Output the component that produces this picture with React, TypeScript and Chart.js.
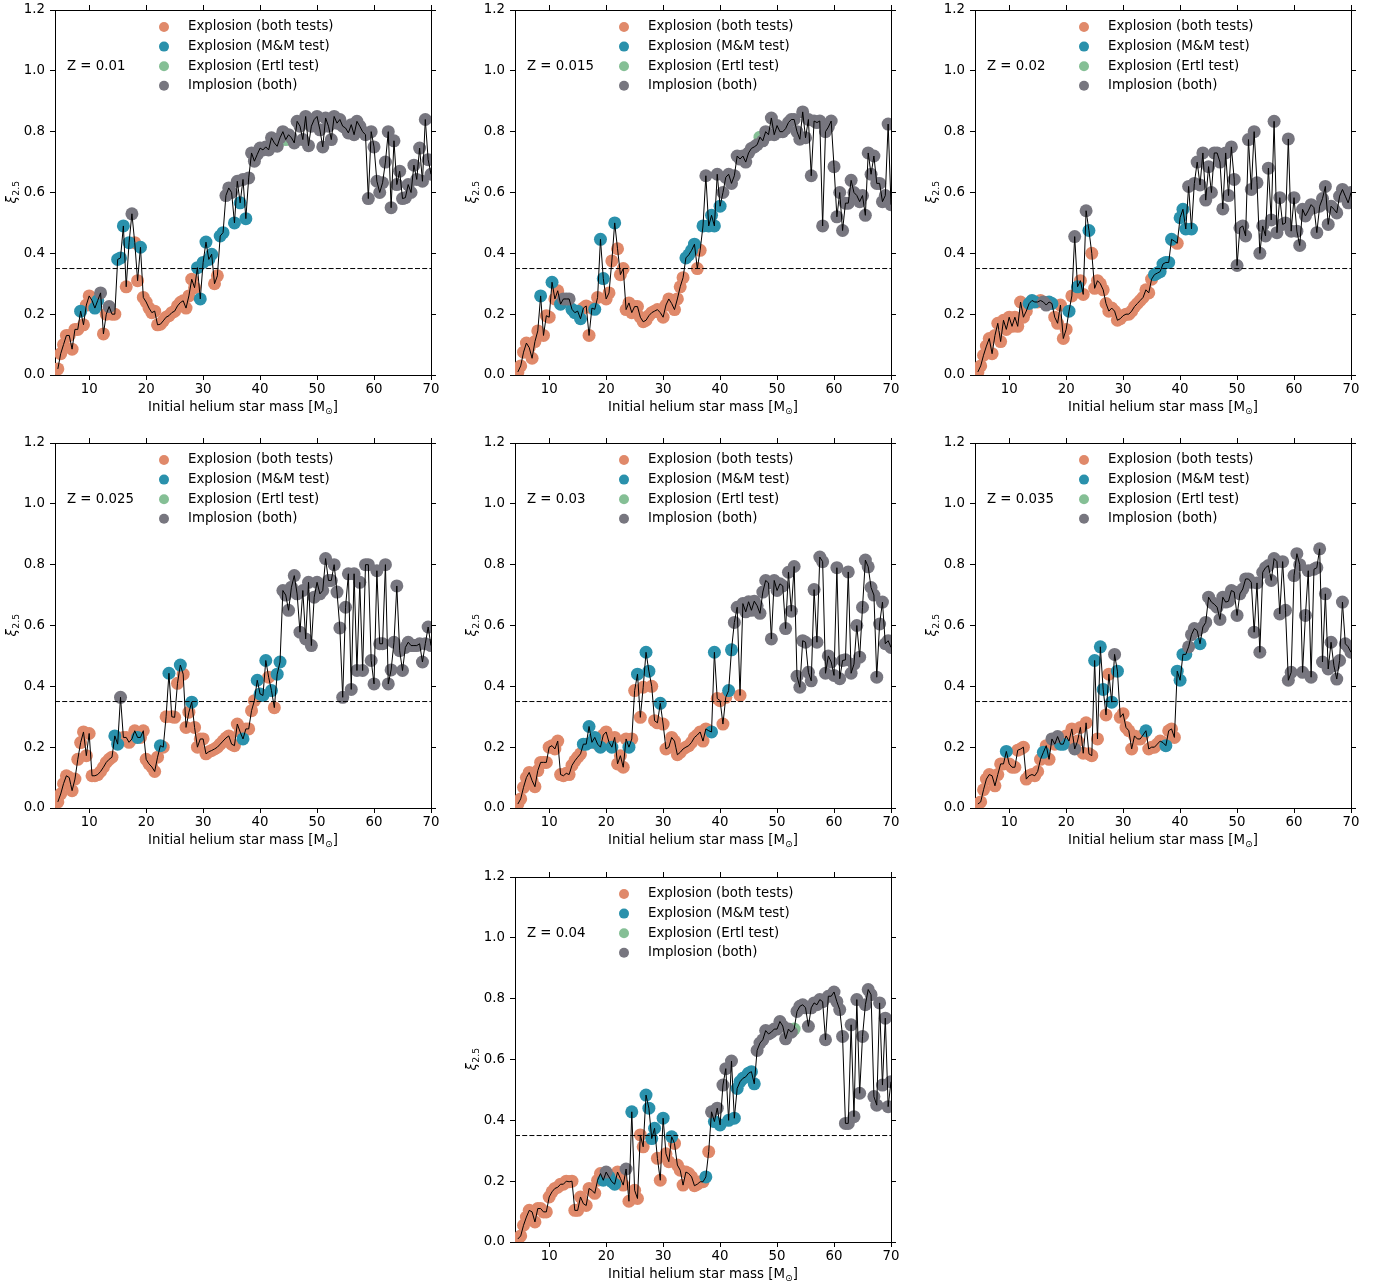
import React, { useEffect, useRef } from "react";
import { Chart, registerables } from "chart.js";

Chart.register(...registerables);

// ---------------- data ----------------
const masses = [
  4.5, 5, 5.5, 6, 6.5, 7, 7.5, 8, 8.5, 9,
  9.5, 10, 10.5, 11, 11.5, 12, 12.5, 13, 13.5, 14,
  14.5, 15, 15.5, 16, 16.5, 17, 17.5, 18, 18.5, 19,
  19.5, 20, 20.5, 21, 21.5, 22, 22.5, 23, 23.5, 24,
  24.5, 25, 25.5, 26, 26.5, 27, 27.5, 28, 28.5, 29,
  29.5, 30, 30.5, 31, 31.5, 32, 32.5, 33, 33.5, 34,
  34.5, 35, 35.5, 36, 36.5, 37, 37.5, 38, 38.5, 39,
  39.5, 40, 40.5, 41, 41.5, 42, 42.5, 43, 43.5, 44,
  44.5, 45, 45.5, 46, 46.5, 47, 47.5, 48, 48.5, 49,
  49.5, 50, 50.5, 51, 51.5, 52, 52.5, 53, 53.5, 54,
  54.5, 55, 55.5, 56, 56.5, 57, 57.5, 58, 58.5, 59,
  59.5, 60, 60.5, 61, 61.5, 62, 62.5, 63, 63.5, 64,
  64.5, 65, 65.5, 66, 66.5, 67, 67.5, 68, 68.5, 69,
  69.5, 70,
];

const xTicks = [10, 20, 30, 40, 50, 60, 70];
const yTicks = [0, 0.2, 0.4, 0.6, 0.8, 1.0, 1.2];
const xRange = [4, 70];
const yRange = [0, 1.2];
const threshold = 0.35;

const categoryCodes = ["O", "B", "E", "I"];
const categoryLabels = [
  "Explosion (both tests)",
  "Explosion (M&M test)",
  "Explosion (Ertl test)",
  "Implosion (both)",
];
const categoryColors = ["#E0896A", "#2A91AC", "#85BF95", "#77767F"];

const zLabels = ["Z = 0.01", "Z = 0.015", "Z = 0.02", "Z = 0.025", "Z = 0.03", "Z = 0.035", "Z = 0.04"];

const xiZ0010 = [
  0.02, 0.07, 0.10, 0.13, 0.13, 0.085, 0.15, 0.15, 0.21, 0.165,
  0.23, 0.26, 0.245, 0.22, 0.245, 0.27, 0.135, 0.20, 0.225, 0.20,
  0.20, 0.38, 0.385, 0.49, 0.29, 0.435, 0.53, 0.435, 0.31, 0.42,
  0.255, 0.24, 0.22, 0.205, 0.21, 0.165, 0.167, 0.178, 0.19, 0.195,
  0.205, 0.21, 0.227, 0.238, 0.244, 0.22, 0.26, 0.315, 0.287, 0.353,
  0.25, 0.37, 0.437, 0.38, 0.397, 0.30, 0.326, 0.457, 0.468, 0.59,
  0.615, 0.60, 0.50, 0.637, 0.566, 0.643, 0.514, 0.648, 0.73, 0.703,
  0.725, 0.746, 0.74, 0.75, 0.74, 0.78, 0.763, 0.752, 0.78, 0.80,
  0.774, 0.79, 0.78, 0.763, 0.834, 0.818, 0.774, 0.85, 0.754, 0.818,
  0.84, 0.85, 0.806, 0.75, 0.845, 0.818, 0.774, 0.85, 0.828, 0.84,
  0.818, 0.812, 0.796, 0.823, 0.79, 0.834, 0.818, 0.80, 0.79, 0.58,
  0.80, 0.75, 0.637, 0.60, 0.632, 0.70, 0.80, 0.55, 0.77, 0.626,
  0.67, 0.58, 0.583, 0.626, 0.60, 0.69, 0.643, 0.746, 0.637, 0.84,
  0.708, 0.66,
];
const catZ0010 = "O8 B1 O4 B2 I1 O2 I1 O2 B3 O1 B1 I1 O2 B1 O19 B6 O2 B2 I3 B1 I1 B1 I1 B1 I13 E1 I51";

const xiZ0015 = [
  0.01, 0.03, 0.075, 0.105, 0.09, 0.055, 0.11, 0.145, 0.26, 0.13,
  0.195, 0.19, 0.305, 0.25, 0.277, 0.233, 0.25, 0.25, 0.25, 0.216,
  0.205, 0.21, 0.185, 0.22, 0.227, 0.13, 0.22, 0.216, 0.255, 0.446,
  0.317, 0.25, 0.27, 0.375, 0.50, 0.415, 0.33, 0.35, 0.215, 0.237,
  0.205, 0.225, 0.225, 0.19, 0.175, 0.18, 0.195, 0.205, 0.21, 0.215,
  0.205, 0.19, 0.23, 0.25, 0.235, 0.215, 0.25, 0.29, 0.32, 0.385,
  0.395, 0.41, 0.43, 0.35, 0.41, 0.49, 0.655, 0.49, 0.525, 0.49,
  0.66, 0.555, 0.60, 0.65, 0.66, 0.63, 0.655, 0.72, 0.71, 0.72,
  0.70, 0.73, 0.745, 0.75, 0.757, 0.782, 0.77, 0.80, 0.79, 0.845,
  0.79, 0.82, 0.80, 0.80, 0.81, 0.83, 0.84, 0.84, 0.80, 0.775,
  0.865, 0.78, 0.84, 0.655, 0.835, 0.83, 0.835, 0.49, 0.80, 0.815,
  0.835, 0.685, 0.52, 0.60, 0.475, 0.565, 0.565, 0.64, 0.60, 0.59,
  0.57, 0.59, 0.525, 0.73, 0.66, 0.72, 0.63, 0.63, 0.57, 0.59,
  0.825, 0.56,
];
const catZ0015 = "O8 B1 O3 B1 O2 B1 I3 B4 O4 B1 O1 B2 O3 B1 O24 B4 O2 B1 I1 B3 I1 B1 I13 E1 I46";

const xiZ0020 = [
  0.01, 0.03, 0.065, 0.095, 0.12, 0.07, 0.13, 0.17, 0.11, 0.18,
  0.15, 0.19, 0.16, 0.19, 0.16, 0.24, 0.19, 0.21, 0.235, 0.245,
  0.24, 0.24, 0.245, 0.24, 0.23, 0.24, 0.235, 0.19, 0.17, 0.23,
  0.12, 0.15, 0.21, 0.26, 0.455, 0.29, 0.31, 0.265, 0.54, 0.475,
  0.40, 0.285, 0.31, 0.30, 0.28, 0.235, 0.21, 0.22, 0.21, 0.18,
  0.185, 0.195, 0.20, 0.20, 0.21, 0.225, 0.235, 0.245, 0.255, 0.28,
  0.27, 0.315, 0.33, 0.335, 0.34, 0.365, 0.37, 0.37, 0.446, 0.44,
  0.433, 0.517, 0.545, 0.48, 0.62, 0.48, 0.63, 0.70, 0.625, 0.73,
  0.575, 0.685, 0.60, 0.73, 0.73, 0.70, 0.546, 0.73, 0.59, 0.75,
  0.643, 0.36, 0.484, 0.49, 0.457, 0.774, 0.61, 0.80, 0.632, 0.40,
  0.49, 0.457, 0.68, 0.51, 0.834, 0.468, 0.583, 0.495, 0.50, 0.776,
  0.473, 0.583, 0.473, 0.426, 0.545, 0.523, 0.54, 0.56, 0.55, 0.468,
  0.555, 0.58, 0.62, 0.495, 0.555, 0.545, 0.533, 0.588, 0.61, 0.588,
  0.566, 0.60,
];
const catZ0020 = "O18 B3 O2 I2 B2 O5 B1 O1 I1 B1 O2 I1 B1 O22 B7 O2 B3 I1 B1 I56";

const xiZ0025 = [
  0.02, 0.046, 0.08, 0.106, 0.10, 0.057, 0.095, 0.16, 0.215, 0.25,
  0.172, 0.245, 0.106, 0.106, 0.11, 0.12, 0.134, 0.15, 0.16, 0.167,
  0.237, 0.21, 0.364, 0.232, 0.232, 0.216, 0.227, 0.254, 0.232, 0.232,
  0.254, 0.16, 0.145, 0.135, 0.12, 0.167, 0.205, 0.20, 0.30, 0.443,
  0.30, 0.298, 0.41, 0.47, 0.44, 0.265, 0.315, 0.348, 0.265, 0.20,
  0.227, 0.227, 0.178, 0.185, 0.189, 0.194, 0.20, 0.21, 0.22, 0.23,
  0.237, 0.21, 0.205, 0.276, 0.25, 0.227, 0.26, 0.26, 0.32, 0.353,
  0.42, 0.375, 0.37, 0.485, 0.43, 0.386, 0.33, 0.44, 0.48, 0.715,
  0.70, 0.65, 0.726, 0.764, 0.704, 0.578, 0.715, 0.556, 0.742, 0.534,
  0.693, 0.742, 0.704, 0.715, 0.82, 0.748, 0.748, 0.80, 0.71, 0.592,
  0.364, 0.66, 0.77, 0.39, 0.77, 0.452, 0.742, 0.452, 0.80, 0.80,
  0.485, 0.408, 0.78, 0.54, 0.54, 0.80, 0.408, 0.454, 0.545, 0.73,
  0.517, 0.452, 0.528, 0.545, 0.534, 0.534, 0.534, 0.54, 0.48, 0.54,
  0.595, 0.534,
];
const catZ0025 = "O20 B2 I1 O5 B1 O7 B1 O2 B1 O3 B1 O3 B1 O17 B1 O4 B4 O1 B1 O1 B2 I53";

const xiZ0030 = [
  0.013, 0.03, 0.068, 0.10, 0.117, 0.09, 0.07, 0.123, 0.15, 0.15,
  0.15, 0.20, 0.205, 0.194, 0.22, 0.11, 0.106, 0.114, 0.11, 0.14,
  0.155, 0.167, 0.178, 0.21, 0.21, 0.268, 0.216, 0.232, 0.21, 0.20,
  0.24, 0.25, 0.216, 0.20, 0.232, 0.145, 0.172, 0.134, 0.227, 0.20,
  0.227, 0.386, 0.44, 0.298, 0.397, 0.512, 0.45, 0.40, 0.287, 0.28,
  0.344, 0.276, 0.194, 0.20, 0.232, 0.22, 0.175, 0.183, 0.194, 0.20,
  0.205, 0.216, 0.232, 0.24, 0.25, 0.22, 0.26, 0.254, 0.25, 0.512,
  0.36, 0.353, 0.276, 0.364, 0.386, 0.52, 0.61, 0.66, 0.37, 0.672,
  0.645, 0.678, 0.65, 0.68, 0.665, 0.64, 0.71, 0.748, 0.74, 0.556,
  0.748, 0.715, 0.737, 0.73, 0.59, 0.775, 0.647, 0.794, 0.433, 0.397,
  0.55, 0.545, 0.446, 0.418, 0.718, 0.545, 0.825, 0.81, 0.443, 0.50,
  0.48, 0.436, 0.79, 0.425, 0.485, 0.487, 0.776, 0.443, 0.473, 0.60,
  0.496, 0.66, 0.815, 0.793, 0.725, 0.70, 0.43, 0.605, 0.677, 0.54,
  0.55, 0.528,
];
const catZ0030 = "O23 B5 O1 B1 O3 B1 O5 B1 O2 B1 O2 B2 O3 B1 O17 B2 O4 B2 I2 O1 I53";

const xiZ0035 = [
  0.013, 0.02, 0.06, 0.095, 0.11, 0.106, 0.073, 0.11, 0.145, 0.145,
  0.186, 0.145, 0.134, 0.134, 0.19, 0.194, 0.20, 0.095, 0.106, 0.11,
  0.106, 0.12, 0.16, 0.183, 0.205, 0.16, 0.227, 0.21, 0.235, 0.21,
  0.21, 0.237, 0.22, 0.26, 0.194, 0.22, 0.265, 0.18, 0.28, 0.178,
  0.172, 0.485, 0.227, 0.53, 0.39, 0.306, 0.44, 0.348, 0.505, 0.45,
  0.298, 0.31, 0.265, 0.254, 0.194, 0.237, 0.227, 0.227, 0.24, 0.254,
  0.194, 0.20, 0.20, 0.21, 0.22, 0.215, 0.205, 0.254, 0.26, 0.232,
  0.45, 0.42, 0.505, 0.505, 0.53, 0.57, 0.59, 0.583, 0.54, 0.595,
  0.61, 0.693, 0.677, 0.67, 0.66, 0.62, 0.693, 0.677, 0.68, 0.715,
  0.71, 0.633, 0.704, 0.72, 0.753, 0.753, 0.742, 0.578, 0.74, 0.512,
  0.775, 0.79, 0.797, 0.748, 0.82, 0.81, 0.638, 0.81, 0.65, 0.42,
  0.446, 0.764, 0.836, 0.80, 0.446, 0.633, 0.78, 0.43, 0.785, 0.79,
  0.852, 0.48, 0.704, 0.457, 0.545, 0.468, 0.424, 0.485, 0.677, 0.54,
  0.53, 0.512,
];
const catZ0035 = "O10 B1 O12 B1 O2 I1 O1 I1 B2 O3 I1 O6 B1 O1 B2 O2 B1 I1 B1 O9 B1 O6 B1 O3 B4 I4 B1 I53";

const xiZ0040 = [
  0.01, 0.02, 0.055, 0.082, 0.104, 0.099, 0.066, 0.11, 0.11, 0.099,
  0.099, 0.148, 0.165, 0.176, 0.18, 0.19, 0.19, 0.20, 0.198, 0.20,
  0.104, 0.104, 0.148, 0.126, 0.12, 0.176, 0.17, 0.16, 0.203, 0.225,
  0.203, 0.23, 0.214, 0.198, 0.19, 0.23, 0.209, 0.187, 0.24, 0.134,
  0.428, 0.17, 0.143, 0.352, 0.313, 0.483, 0.44, 0.34, 0.374, 0.275,
  0.203, 0.407, 0.29, 0.264, 0.346, 0.324, 0.253, 0.236, 0.187, 0.23,
  0.225, 0.214, 0.185, 0.19, 0.198, 0.198, 0.214, 0.297, 0.428, 0.396,
  0.44, 0.385, 0.516, 0.57, 0.40, 0.595, 0.407, 0.505, 0.527, 0.538,
  0.543, 0.555, 0.56, 0.52, 0.63, 0.654, 0.665, 0.695, 0.684, 0.69,
  0.70, 0.70, 0.725, 0.71, 0.668, 0.70, 0.69, 0.70, 0.758, 0.775,
  0.78, 0.77, 0.709, 0.77, 0.786, 0.78, 0.797, 0.79, 0.665, 0.808,
  0.808, 0.822, 0.79, 0.764, 0.676, 0.39, 0.39, 0.714, 0.412, 0.797,
  0.489, 0.676, 0.78, 0.83, 0.813, 0.478, 0.45, 0.786, 0.516, 0.736,
  0.445, 0.527,
];
const catZ0040 = "O30 B1 I1 B3 O3 I1 O1 B1 O4 B4 O2 B1 O2 B1 O11 B1 O1 I1 B1 I1 B1 I2 B1 I1 B8 I13 E1 I34";

const panelValues = [xiZ0010, xiZ0015, xiZ0020, xiZ0025, xiZ0030, xiZ0035, xiZ0040];
const panelCategories = [catZ0010, catZ0015, catZ0020, catZ0025, catZ0030, catZ0035, catZ0040];

// ---------------- layout ----------------
const panelCols = [0, 1, 2, 0, 1, 2, 1];
const panelRows = [0, 0, 0, 1, 1, 1, 2];
const plotLefts = [55, 515, 975];
const plotTops = [8, 441, 875];
const PLOT_W = 376;
const PLOT_H = 365;
const LEFT_AXIS = 55;
const TOP_AXIS = 8;
const RIGHT_AXIS = 12;
const BOTTOM_AXIS = 46;
const TOP_SHIFT = 6; // measured offset of the plot area inside the canvas
const CANVAS_W = LEFT_AXIS + PLOT_W + RIGHT_AXIS;
const CANVAS_H = TOP_AXIS + PLOT_H + BOTTOM_AXIS;

const FONT = '"DejaVu Sans", "Liberation Sans", sans-serif';
const FS = 13.33;

function decodeRuns(s: string): string[] {
  const out: string[] = [];
  s.trim().split(/\s+/).forEach((tok) => {
    const c = tok[0];
    const n = parseInt(tok.slice(1), 10);
    for (let i = 0; i < n; i++) out.push(c);
  });
  return out;
}

function fixSize(s: any, prop: "width" | "height", v: number) {
  s[prop] = v;
  s.paddingTop = 0;
  s.paddingBottom = 0;
  s.paddingLeft = 0;
  s.paddingRight = 0;
}

const decorPlugin = {
  id: "decor",
  afterDraw(chart: any, _args: any, opts: any) {
    const ctx = chart.ctx as CanvasRenderingContext2D;
    const a = chart.chartArea;
    const f = (size: number, style = "") => `${style} ${size}px ${FONT}`.trim();
    ctx.save();
    ctx.fillStyle = "#000";
    // legend
    categoryLabels.forEach((lab, k) => {
      const y = a.top + 17 + 19.6 * k;
      ctx.fillStyle = categoryColors[k];
      ctx.beginPath();
      ctx.arc(a.left + 109, y, 5, 0, Math.PI * 2);
      ctx.fill();
      ctx.fillStyle = "#000";
      ctx.font = f(FS);
      ctx.textAlign = "left";
      ctx.textBaseline = "middle";
      ctx.fillText(lab, a.left + 133, y);
    });
    // metallicity label
    ctx.font = f(FS);
    ctx.textAlign = "left";
    ctx.textBaseline = "middle";
    ctx.fillText(opts.zText, a.left + 12, a.top + 56.5);

    // x title with subscript sun symbol
    const main = "Initial helium star mass [M";
    const sub = "\u2299";
    const end = "]";
    ctx.textBaseline = "alphabetic";
    ctx.font = f(FS);
    const w1 = ctx.measureText(main).width;
    const w3 = ctx.measureText(end).width;
    ctx.font = f(9.3);
    const w2 = ctx.measureText(sub).width;
    const x0 = (a.left + a.right) / 2 - (w1 + w2 + w3) / 2;
    const by = a.bottom + 36;
    ctx.font = f(FS);
    ctx.fillText(main, x0, by);
    ctx.font = f(9.3);
    ctx.fillText(sub, x0 + w1, by + 2.5);
    ctx.font = f(FS);
    ctx.fillText(end, x0 + w1 + w2, by);

    // y title xi_{2.5}
    const cy = (a.top + a.bottom) / 2;
    ctx.translate(a.left - 39, cy);
    ctx.rotate(-Math.PI / 2);
    ctx.font = f(FS, "italic");
    const g1 = ctx.measureText("\u03BE").width;
    ctx.font = f(9.3);
    const g2 = ctx.measureText("2.5").width;
    const s0 = -(g1 + g2) / 2;
    ctx.font = f(FS, "italic");
    ctx.fillText("\u03BE", s0, 0);
    ctx.font = f(9.3);
    ctx.fillText("2.5", s0 + g1 + 0.5, 2.5);
    ctx.restore();
  },
};

function buildConfig(p: number): any {
  const vals = panelValues[p];
  const cats = decodeRuns(panelCategories[p]);
  const linePts = masses.map((m, i) => ({ x: m, y: vals[i] }));
  const scatterSets = categoryCodes.map((code, k) => ({
    label: categoryLabels[k],
    data: masses
      .map((m, i) => ({ x: m, y: vals[i], c: cats[i] || "I" }))
      .filter((d) => d.c === code)
      .map((d) => ({ x: d.x, y: d.y })),
    backgroundColor: categoryColors[k],
    borderWidth: 0,
    pointRadius: 6.5,
    pointHoverRadius: 6.5,
    showLine: false,
    order: 5 - k,
    clip: 0,
  }));

  const tickFont = { family: FONT, size: FS };
  const gridCfg = {
    display: true,
    drawOnChartArea: false,
    drawTicks: true,
    tickLength: 5,
    tickColor: "#000",
    tickWidth: 1,
  };
  const borderCfg = { display: true, color: "#000", width: 1 };

  return {
    type: "scatter",
    data: {
      datasets: [
        {
          label: "threshold",
          data: [
            { x: xRange[0], y: threshold },
            { x: xRange[1], y: threshold },
          ],
          showLine: true,
          borderColor: "#000",
          borderWidth: 1,
          borderDash: [5, 2.2],
          pointRadius: 0,
          order: 0,
          clip: 0,
        },
        {
          label: "xi",
          data: linePts,
          showLine: true,
          borderColor: "#000",
          borderWidth: 1,
          pointRadius: 0,
          tension: 0,
          order: 1,
          clip: 0,
        },
        ...scatterSets,
      ],
    },
    options: {
      responsive: false,
      devicePixelRatio: 1,
      animation: false,
      events: [],
      layout: { padding: 0, autoPadding: false },
      plugins: {
        legend: { display: false },
        tooltip: { enabled: false },
        decor: { zText: zLabels[p] },
      },
      scales: {
        x: {
          type: "linear",
          position: "bottom",
          min: xRange[0],
          max: xRange[1],
          afterBuildTicks: (s: any) => {
            s.ticks = xTicks.map((v) => ({ value: v }));
          },
          afterFit: (s: any) => fixSize(s, "height", BOTTOM_AXIS),
          ticks: {
            color: "#000",
            font: tickFont,
            padding: 2,
            maxRotation: 0,
            minRotation: 0,
            autoSkip: false,
            callback: (v: any) => String(v),
          },
          grid: gridCfg,
          border: borderCfg,
        },
        x2: {
          type: "linear",
          axis: "x",
          position: "top",
          min: xRange[0],
          max: xRange[1],
          afterBuildTicks: (s: any) => {
            s.ticks = xTicks.map((v) => ({ value: v }));
          },
          afterFit: (s: any) => fixSize(s, "height", TOP_AXIS),
          ticks: {
            color: "rgba(0,0,0,0)",
            font: tickFont,
            maxRotation: 0,
            minRotation: 0,
            autoSkip: false,
          },
          grid: gridCfg,
          border: borderCfg,
        },
        y: {
          type: "linear",
          position: "left",
          min: yRange[0],
          max: yRange[1],
          afterBuildTicks: (s: any) => {
            s.ticks = yTicks.map((v) => ({ value: v }));
          },
          afterFit: (s: any) => fixSize(s, "width", LEFT_AXIS),
          ticks: {
            color: "#000",
            font: { family: FONT, size: FS, lineHeight: 1 },
            padding: 5,
            autoSkip: false,
            callback: (v: any) => Number(v).toFixed(1),
          },
          grid: gridCfg,
          border: borderCfg,
        },
        y2: {
          type: "linear",
          axis: "y",
          position: "right",
          min: yRange[0],
          max: yRange[1],
          afterBuildTicks: (s: any) => {
            s.ticks = yTicks.map((v) => ({ value: v }));
          },
          afterFit: (s: any) => fixSize(s, "width", RIGHT_AXIS),
          ticks: {
            color: "rgba(0,0,0,0)",
            font: { family: FONT, size: FS, lineHeight: 1 },
            autoSkip: false,
          },
          grid: gridCfg,
          border: borderCfg,
        },
      },
    },
    plugins: [decorPlugin],
  };
}

function Panel({ p }: { p: number }) {
  const ref = useRef<HTMLCanvasElement | null>(null);
  useEffect(() => {
    if (!ref.current) return;
    const chart = new Chart(ref.current, buildConfig(p));
    return () => chart.destroy();
  }, [p]);
  const left = plotLefts[panelCols[p]] - LEFT_AXIS;
  const top = plotTops[panelRows[p]] - TOP_SHIFT;
  return (
    <canvas
      ref={ref}
      width={CANVAS_W}
      height={CANVAS_H}
      style={{ position: "absolute", left, top, width: CANVAS_W, height: CANVAS_H }}
    />
  );
}

export default function App() {
  return (
    <div
      style={{
        position: "absolute",
        left: 0,
        top: 0,
        width: 1389,
        height: 1288,
        background: "#fff",
        overflow: "hidden",
      }}
    >
      {panelValues.map((_, p) => (
        <Panel key={p} p={p} />
      ))}
    </div>
  );
}
